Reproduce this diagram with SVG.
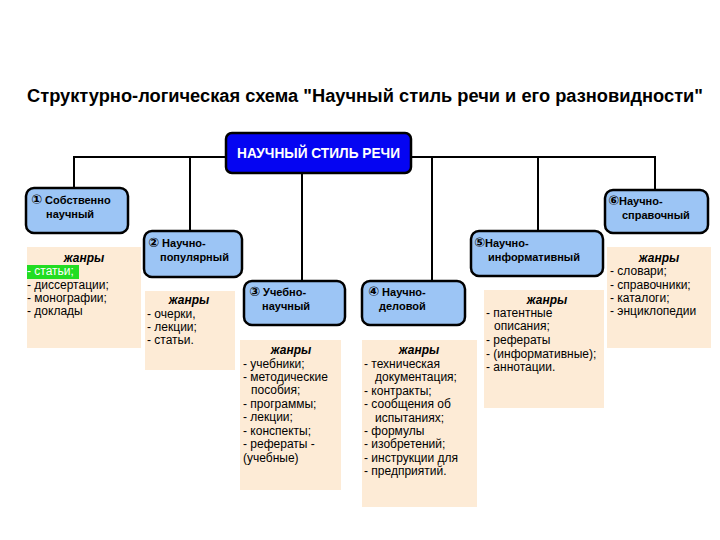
<svg xmlns="http://www.w3.org/2000/svg" width="720" height="540" viewBox="0 0 720 540">
<style>
.ttl{font-family:"Liberation Sans",Arial,sans-serif;font-weight:bold;font-size:18px;fill:#000}
.main{fill:#0505F2;stroke:#000;stroke-width:2.5}
.mt{font-family:"Liberation Sans",Arial,sans-serif;font-weight:bold;font-size:14px;fill:#fff}
.nd{fill:#9CC5F5;stroke:#000;stroke-width:2.5}
.nt{font-family:"Liberation Sans","DejaVu Sans",sans-serif;font-weight:bold;font-size:11px;fill:#000}
.cd{font-family:"DejaVu Sans",sans-serif;font-size:13px;font-weight:bold}
.gb{fill:#FDEBD6}
.gh{font-family:"Liberation Sans",Arial,sans-serif;font-weight:bold;font-style:italic;font-size:12px;fill:#000;text-anchor:middle}
.gt{font-family:"Liberation Sans",Arial,sans-serif;font-size:12px;fill:#000}
.ln{stroke:#000;stroke-width:2;fill:none}
</style>
<rect width="720" height="540" fill="#fff"/>
<text class="ttl" x="27" y="102" textLength="676" lengthAdjust="spacingAndGlyphs">Структурно-логическая схема "Научный стиль речи и его разновидности"</text>

<g id="connectors">
<path class="ln" d="M74,188 V157 H226 M410,157 H655 V190 M190,157 V231 M302,172 V281 M432,157 V281 M538,157 V231"/>
</g>

<g id="genres1"><rect class="gb" x="27" y="247" width="114" height="101"/>
<text class="gh" x="84" y="262">жанры</text>
<rect x="27" y="265" width="52" height="14" fill="#22DD22"/>
<text class="gt" x="27" y="275" style="fill:#fff">- статьи;</text>
<text class="gt" x="27" y="289">- диссертации;</text>
<text class="gt" x="27" y="302">- монографии;</text>
<text class="gt" x="27" y="315">- доклады</text></g>

<g id="genres2"><rect class="gb" x="145" y="291" width="90" height="79"/>
<text class="gh" x="189" y="304">жанры</text>
<text class="gt" x="147" y="318">- очерки,</text>
<text class="gt" x="147" y="331">- лекции;</text>
<text class="gt" x="147" y="344">- статьи.</text></g>

<g id="genres3"><rect class="gb" x="240" y="340" width="101" height="150"/>
<text class="gh" x="291" y="354">жанры</text>
<text class="gt" x="243" y="368">- учебники;</text>
<text class="gt" x="243" y="381">- методические</text>
<text class="gt" x="251" y="394">пособия;</text>
<text class="gt" x="243" y="408">- программы;</text>
<text class="gt" x="243" y="421">- лекции;</text>
<text class="gt" x="243" y="435">- конспекты;</text>
<text class="gt" x="243" y="448">- рефераты -</text>
<text class="gt" x="243" y="462">(учебные)</text></g>

<g id="genres4"><rect class="gb" x="362" y="340" width="115" height="167"/>
<text class="gh" x="419" y="354">жанры</text>
<text class="gt" x="364" y="368">- техническая</text>
<text class="gt" x="375" y="381">документация;</text>
<text class="gt" x="364" y="395">- контракты;</text>
<text class="gt" x="364" y="408">- сообщения об</text>
<text class="gt" x="375" y="422">испытаниях;</text>
<text class="gt" x="364" y="435">- формулы</text>
<text class="gt" x="364" y="448">- изобретений;</text>
<text class="gt" x="364" y="462">- инструкции для</text>
<text class="gt" x="364" y="475">- предприятий.</text></g>

<g id="genres5"><rect class="gb" x="484" y="290" width="120" height="118"/>
<text class="gh" x="547" y="304">жанры</text>
<text class="gt" x="486" y="317">- патентные</text>
<text class="gt" x="494" y="330">описания;</text>
<text class="gt" x="486" y="344">- рефераты</text>
<text class="gt" x="486" y="358">- (информативные);</text>
<text class="gt" x="486" y="371">- аннотации.</text></g>

<g id="genres6"><rect class="gb" x="607" y="247" width="104" height="101"/>
<text class="gh" x="659" y="262">жанры</text>
<text class="gt" x="610" y="275">- словари;</text>
<text class="gt" x="610" y="289">- справочники;</text>
<text class="gt" x="610" y="302">- каталоги;</text>
<text class="gt" x="610" y="315">- энциклопедии</text></g>

<g id="main"><rect class="main" x="226" y="133" width="185" height="40" rx="6"/>
<text class="mt" x="237" y="158" textLength="163" lengthAdjust="spacingAndGlyphs">НАУЧНЫЙ СТИЛЬ РЕЧИ</text></g>

<g id="node1"><rect class="nd" x="26" y="188" width="102" height="45" rx="8"/>
<text class="nt" x="31" y="204"><tspan class="cd">①</tspan> Собственно</text>
<text class="nt" x="46" y="218">научный</text></g>

<g id="node2"><rect class="nd" x="144" y="231" width="98" height="46" rx="8"/>
<text class="nt" x="148" y="247"><tspan class="cd">②</tspan> Научно-</text>
<text class="nt" x="160" y="261">популярный</text></g>

<g id="node3"><rect class="nd" x="244" y="281" width="101" height="44" rx="8"/>
<text class="nt" x="249" y="296"><tspan class="cd">③</tspan> Учебно-</text>
<text class="nt" x="262" y="310">научный</text></g>

<g id="node4"><rect class="nd" x="362" y="281" width="103" height="44" rx="8"/>
<text class="nt" x="368" y="296"><tspan class="cd">④</tspan> Научно-</text>
<text class="nt" x="379" y="310">деловой</text></g>

<g id="node5"><rect class="nd" x="471" y="231" width="132" height="45" rx="8"/>
<text class="nt" x="474" y="247"><tspan class="cd">⑤</tspan>Научно-</text>
<text class="nt" x="488" y="261">информативный</text></g>

<g id="node6"><rect class="nd" x="605" y="190" width="103" height="43" rx="8"/>
<text class="nt" x="608" y="205"><tspan class="cd">⑥</tspan>Научно-</text>
<text class="nt" x="622" y="219">справочный</text></g>
</svg>
